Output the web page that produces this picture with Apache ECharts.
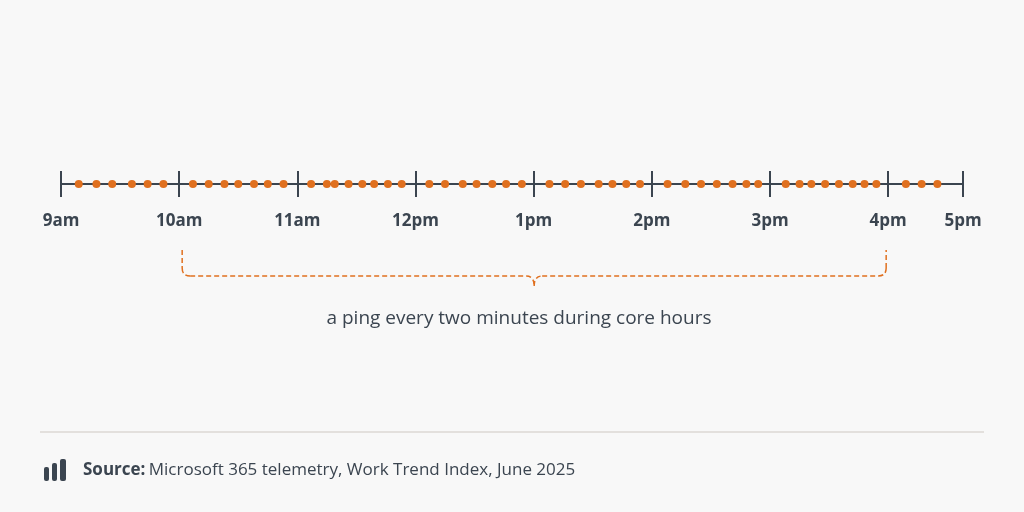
<!DOCTYPE html><html><head><meta charset="utf-8">
<script src="https://cdn.jsdelivr.net/npm/echarts@6/dist/echarts.min.js"></script>
<style>html,body{margin:0;background:#f8f8f8}#c{width:1024px;height:512px}</style></head><body><div id="c"></div>
<script>
// minutes after 9am
const pingMinutes=[9,18,26,36,44,52,67,75,83,90,98,105,113,127,135,139,146,153,159,166,173,187,195,204,211,219,226,234,248,256,264,273,280,287,294,308,317,325,333,341,348,354,368,375,381,388,395,402,408,414,429,437,445];
const tickValues=[0,60,120,180,240,300,360,420,458];
const tickLabels=['9am','10am','11am','12pm','1pm','2pm','3pm','4pm','5pm'];
const axisMax=458;
const ink='#3b4550', orange='#e0701f', font='Open Sans';
const chart=echarts.init(document.getElementById('c'));
chart.setOption({
 backgroundColor:'#f8f8f8',animation:false,
 grid:{left:61,right:61,top:171,height:26},
 xAxis:{type:'value',min:0,max:axisMax,splitLine:{show:false},
  axisLine:{show:true,onZero:true,lineStyle:{color:ink,width:2}},axisTick:{show:false},
  axisLabel:{customValues:tickValues,margin:16,fontFamily:font,fontWeight:'bold',fontSize:17,color:ink,
   formatter:v=>tickLabels[tickValues.indexOf(v)]}},
 yAxis:{type:'value',min:-1,max:1,show:false},
 series:[{type:'scatter',symbolSize:8,itemStyle:{color:orange,opacity:1},z:5,
  data:pingMinutes.map(m=>[m,0]),
  markLine:{silent:true,symbol:'none',label:{show:false},lineStyle:{color:ink,width:2,type:'solid'},
   data:tickValues.map(v=>({xAxis:v}))}}]
});
const xl=chart.convertToPixel({xAxisIndex:0},60)+3, xr=chart.convertToPixel({xAxisIndex:0},420)-2, xm=(xl+xr)/2;
const y0=250,yb=276,yp=290,r=8;
const ds={stroke:orange,lineWidth:1.5,lineDash:[5,3],fill:null};
const seg=(x1,y1,x2,y2)=>({type:'line',shape:{x1,y1,x2,y2},style:ds});
const crv=(x1,y1,cx,cy,x2,y2)=>({type:'bezierCurve',shape:{x1,y1,x2,y2,cpx1:cx,cpy1:cy},style:ds});
chart.setOption({graphic:[
 seg(xl,y0,xl,yb-r), crv(xl,yb-r,xl,yb,xl+r,yb), seg(xl+r,yb,xm-r,yb), crv(xm-r,yb,xm,yb,xm,yp-4),
 crv(xm,yp-4,xm,yb,xm+r,yb), seg(xm+r,yb,xr-r,yb), crv(xr-r,yb,xr,yb,xr,yb-r), seg(xr,yb-r,xr,y0),
 {type:'text',x:519,y:319,style:{text:'a ping every two minutes during core hours',align:'center',verticalAlign:'middle',fontFamily:font,fontSize:19,fill:ink}},
 {type:'line',shape:{x1:40,y1:432,x2:984,y2:432},style:{stroke:'#ddd9d4',lineWidth:1.5}},
 {type:'rect',shape:{x:44,y:467,width:5,height:14,r:2},style:{fill:ink}},
 {type:'rect',shape:{x:52,y:463,width:5,height:18,r:2},style:{fill:ink}},
 {type:'rect',shape:{x:60,y:459,width:6,height:22,r:2},style:{fill:ink}},
 {type:'text',x:83,y:470,style:{rich:{b:{fontWeight:'bold',fontFamily:font,fontSize:17,fill:ink},n:{fontFamily:font,fontSize:17,fill:ink}},text:'{b|Source:} {n|Microsoft 365 telemetry, Work Trend Index, June 2025}',verticalAlign:'middle'}}
]});
</script></body></html>
